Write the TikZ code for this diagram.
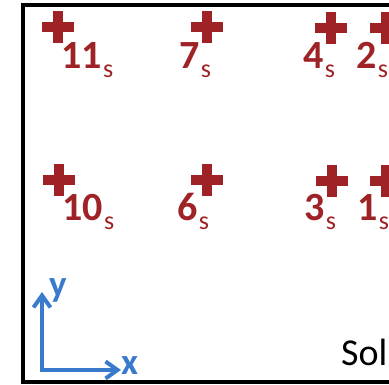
\documentclass[tikz,border=0pt]{standalone}
\usepackage{fontspec}
\setmainfont{Carlito}
\usetikzlibrary{arrows.meta,shapes.misc}
\definecolor{chargered}{RGB}{158,34,38}
\definecolor{axisblue}{RGB}{58,122,204}
\newcommand\subs{\kern1.5pt\raisebox{-9pt}{\fontsize{26}{26}\selectfont\mdseries s}}
\begin{document}
\begin{tikzpicture}[
  x=1pt, y=-1pt,
  charge/.style={cross out, draw=chargered, rotate=45, line width=10pt, minimum size=22.6pt, inner sep=0pt, outer sep=0pt},
  num/.style={anchor=base west, inner sep=0pt, text=chargered, font=\fontsize{40}{40}\selectfont\bfseries},
  axis/.style={draw=axisblue, line width=4pt, miter limit=4,
    {Straight Barb[length=12pt,width=17pt]}-{Straight Barb[length=12pt,width=17pt]}},
  axlabel/.style={anchor=base west, inner sep=0pt, text=axisblue, font=\fontsize{37}{37}\selectfont\bfseries}
]
\useasboundingbox (0,0) rectangle (389,385);
\clip (0,0) rectangle (389,385);

% frame (right side is cut off)
\draw[line width=4.5pt] (23,5) rectangle (430,382);

% source charges
\node[charge] (p11) at (58,27) {};
\node[charge] (p7) at (207,27) {};
\node[charge] (p4) at (331,28) {};
\node[charge] (p2) at (386,28) {};
\node[charge] (p10) at (59,180) {};
\node[charge] (p6) at (207,180) {};
\node[charge] (p3) at (332,181) {};
\node[charge] (p1) at (386,181) {};

% labels
\node[num] (n11) at (61,69) {11\subs};
\node[num] (n7) at (179,69) {7\subs};
\node[num] (n4) at (303,69) {4\subs};
\node[num] (n2) at (356,69) {2\subs};
\node[num] (n10) at (62,221) {10\subs};
\node[num] (n6) at (177,221) {6\subs};
\node[num] (n3) at (304,221) {3\subs};
\node[num] (n1) at (357,221) {1\subs};

% axes
\coordinate (orig) at (42,370);
\coordinate (ytip) at (42,292);
\coordinate (xtip) at (121,370);
\draw[axis] (ytip) -- (orig) -- (xtip);
\node[axlabel] (ylab) at (49,297) {y};
\node[axlabel] (xlab) at (121,375) {x};

\node[anchor=base west, inner sep=0pt, font=\fontsize{38}{38}\selectfont] (sol) at (341,366) {Sol};
\end{tikzpicture}
\end{document}
